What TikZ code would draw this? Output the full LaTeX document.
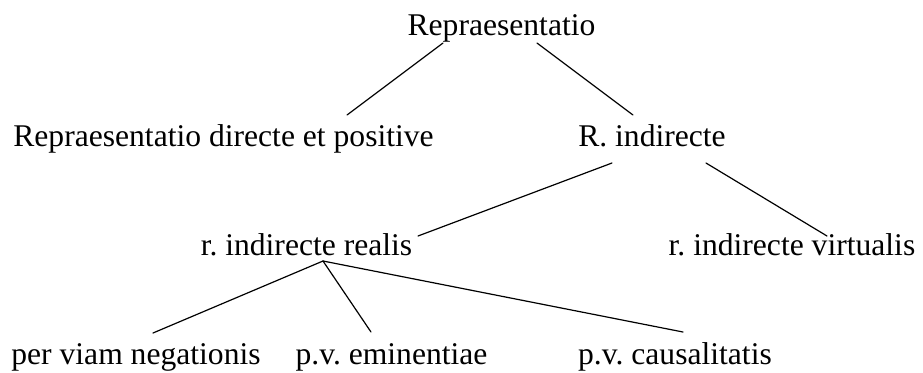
\documentclass[tikz,border=0pt]{standalone}
\usepackage{fontspec}
\setmainfont{Liberation Serif}
\usepackage{tikz}
\usetikzlibrary{calc}
\frenchspacing

\begin{document}
\begin{tikzpicture}[x=0.5pt, y=-0.5pt,
  term/.style={inner sep=0pt, anchor=base, font=\fontsize{15.8}{19}\selectfont},
  branch/.style={line width=0.6pt, line cap=round}]

  \useasboundingbox (0,0) rectangle (923,372);

  \node[term] (repr) at (501.5,35) {Repraesentatio};

  \node[term] (direct) at (223.5,146) {Repraesentatio directe et positive};
  \node[term] (rind) at (652,146) {R. indirecte};

  \node[term] (realis) at (306.5,255) {r. indirecte realis};
  \node[term] (virt) at (792,255) {r. indirecte virtualis};

  \node[term] (negat) at (136,364) {per viam negationis};
  \node[term] (emin) at (391.5,364) {p.v. eminentiae};
  \node[term] (causa) at (675,364) {p.v. causalitatis};

  \coordinate (fork) at ($(realis.base)+(16.5,6)$);

  \draw[branch] ($(repr.base)+(-58.5,8)$) -- ($(direct.base)+(123.5,-31)$);
  \draw[branch] ($(repr.base)+(35.5,8)$) -- ($(rind.base)+(-19,-31)$);
  \draw[branch] ($(rind.base)+(-40,17)$) -- ($(realis.base)+(111.5,-19)$);
  \draw[branch] ($(rind.base)+(54,17)$) -- ($(virt.base)+(35,-19)$);
  \draw[branch] (fork) -- ($(negat.base)+(17,-31)$);
  \draw[branch] (fork) -- ($(emin.base)+(-20.5,-32)$);
  \draw[branch] (fork) -- ($(causa.base)+(8,-32)$);
\end{tikzpicture}
\end{document}
